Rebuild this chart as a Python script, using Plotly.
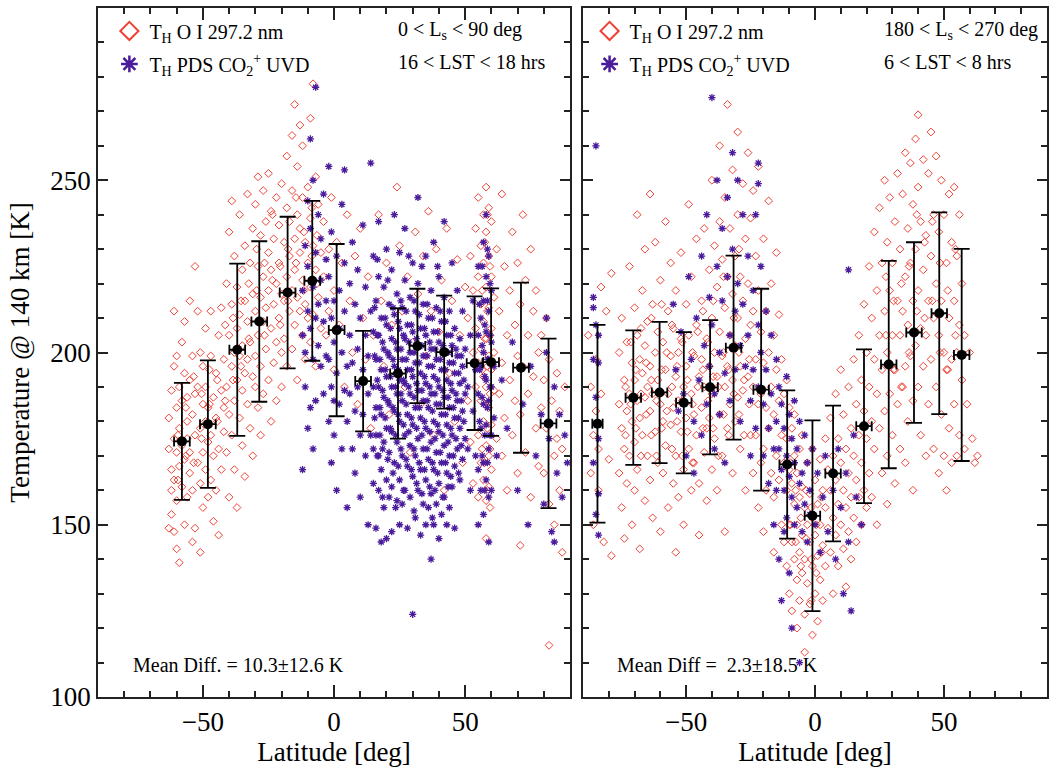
import plotly.graph_objects as go

# ---------------- DATA ----------------
# Left panel: 0 < Ls < 90 deg, 16 < LST < 18 hrs
RED_L = [
(-63,149),(-63,172),(-63,181),(-62,160),(-62,153),(-62,189),(-62,166),(-61,212),(-61,175),(-61,148),(-61,196),(-61,163),
(-60,199),(-60,171),(-60,184),(-60,157),(-60,143),(-59,139),(-59,178),(-59,167),(-59,190),(-58,186),(-58,161),(-58,173),
(-58,203),(-57,209),(-57,194),(-57,169),(-57,150),(-56,180),(-56,158),(-56,175),(-56,187),(-55,215),(-55,165),(-55,192),
(-55,171),(-54,145),(-54,182),(-54,199),(-54,160),(-53,225),(-53,176),(-53,149),(-53,188),
(-52,212),(-52,168),(-52,190),(-51,142),(-51,178),(-51,200),(-51,162),(-50,185),(-50,171),(-50,155),(-50,196),(-49,180),
(-49,207),(-49,166),(-49,190),(-48,174),(-48,158),(-48,184),(-47,199),(-47,163),(-47,212),(-47,176),(-46,151),(-46,187),
(-46,170),(-45,194),(-45,181),(-45,160),(-44,205),(-44,172),(-44,147),(-43,189),(-43,213),(-43,166),(-42,177),(-42,198),(-42,184),
(-41,220),(-41,190),(-41,171),(-40,235),(-40,205),(-40,182),(-40,158),(-39,214),(-39,196),(-39,176),(-39,244),(-38,228),
(-38,200),(-38,186),(-38,166),(-37,219),(-37,207),(-37,192),(-37,155),(-36,240),(-36,211),(-36,181),(-36,199),(-35,224),
(-35,202),(-35,173),(-35,189),(-34,231),(-34,215),(-34,194),(-34,164),(-33,246),(-33,209),(-33,185),(-33,198),(-32,226),
(-32,203),(-32,178),(-31,217),(-31,236),(-31,193),(-31,170),
(-30,243),(-30,212),(-30,190),(-30,199),(-29,251),(-29,225),(-29,205),(-29,184),(-28,234),(-28,216),(-28,196),(-28,176),
(-27,247),(-27,222),(-27,209),(-27,188),(-26,238),(-26,213),(-26,201),(-25,229),(-25,252),(-25,192),(-25,218),(-24,241),
(-24,207),(-24,180),(-24,224),(-23,233),(-23,214),(-23,197),(-22,245),(-22,220),(-22,203),(-22,186),(-21,237),(-21,226),
(-21,210),(-20,249),(-20,217),(-20,200),(-20,190),
(-19,232),(-19,215),(-19,204),(-18,257),(-18,242),(-18,222),(-18,196),(-17,238),(-17,212),(-17,228),(-16,263),(-16,247),
(-16,218),(-16,201),(-15,233),(-15,224),(-15,208),(-15,272),(-14,254),(-14,240),(-14,216),(-14,192),(-13,229),(-13,212),
(-13,236),(-13,266),(-12,260),(-12,245),(-12,221),(-12,205),(-11,232),(-11,214),(-11,198),(-10,248),(-10,226),(-10,210),
(-9,268),(-9,239),(-9,219),(-9,203),(-8,278),(-8,231),(-8,211),(-7,251),(-7,224),(-7,196),(-6,243),(-6,216),(-5,229),(-5,207),
(-4,222),(-4,238),(-3,205),(-2,230),(-2,212),(-1,245),(0,218),(0,195),(1,232),(2,208),(3,226),(4,190),(5,240),(6,215),
(7,200),(8,228),(9,185),(10,236),(11,210),(12,198),(13,222),(14,178),(15,205),
(17,240),(18,215),(19,196),(20,226),(21,182),(22,208),(24,248),(25,231),(26,212),(27,190),(28,222),(29,171),(30,203),
(31,235),(32,217),(33,185),(34,228),(35,199),(36,241),(37,212),(38,176),(39,230),(40,206),(41,221),(42,160),(43,236),
(44,194),(45,215),(46,180),(47,227),(48,205),(49,168),(50,219),
(51,210),(51,186),(52,228),(52,174),(53,200),(53,218),(53,162),(54,236),(54,190),(54,207),(55,245),(55,222),(55,197),
(55,176),(55,158),(56,231),(56,214),(56,201),(56,186),(56,168),(57,240),(57,226),(57,209),(57,193),(57,180),(57,163),
(58,248),(58,235),(58,219),(58,204),(58,190),(58,173),(58,157),(58,146),(59,242),(59,228),(59,213),(59,199),(59,184),
(59,170),(59,161),(60,238),(60,222),(60,207),(60,195),(60,179),(60,166),(61,216),(61,189),(61,200),(62,230),(62,175),
(63,212),(63,188),(64,246),(64,197),(64,170),(65,225),(65,181),(66,205),(66,160),(67,218),(67,192),(68,235),(68,176),
(69,208),(69,186),(70,226),(70,199),(70,165),(71,214),(71,182),(71,144),(72,240),(72,196),(73,221),(73,171),(74,205),
(74,188),(75,230),(75,158),(76,212),(76,193),(77,178),(77,218),(78,200),(78,167),
(79,205),(79,184),(80,192),(80,165),(81,178),(81,210),(82,156),(82,198),(82,115),(83,186),(84,170),(84,150),(85,194),
(85,175),(86,160),(86,183),(87,142),(87,172),(88,190),
]
# additional red points, given as (latitude, [temperatures])
RED_L_MORE = [
(-59.5,[176,163]),(-56.5,[184,170]),(-53.5,[168,193]),(-50.5,[188,175]),(-47.5,[185,195]),(-44.5,[180,192]),
(-41.5,[208,186]),(-38.5,[210,192]),(-35.5,[215,196]),(-32.5,[220,204]),(-29.5,[218,230]),(-26.5,[226,205]),
(-23.5,[221,240]),(-20.5,[225,208]),(-17.5,[230,215]),(-14.5,[226,245]),(-11.5,[235,218]),(-8.5,[228,242]),
(-6.5,[220,234]),(56.5,[218,195,172]),(57.5,[232,204,185,168]),(58.5,[240,212,196,178,160]),(59.5,[225,205,188,172,155]),
]

PURPLE_L = [
(-12,205),(-12,218),(-12,166),(-11,231),(-11,200),(-11,190),(-10,244),(-10,212),(-10,225),(-10,178),(-9,262),(-9,207),
(-9,236),(-9,184),(-8,219),(-8,198),(-8,250),(-8,172),(-7,277),(-7,229),(-7,210),(-7,186),(-6,214),(-6,240),(-6,202),
(-5,221),(-5,196),(-5,233),(-4,209),(-4,246),(-4,188),(-3,215),(-3,199),(-3,227),
(-2,222),(-2,198),(-2,180),(-2,254),(-1,235),(-1,210),(-1,190),(-1,168),(0,215),(0,203),(0,186),(0,176),(1,228),(1,194),
(1,160),(2,207),(2,218),(2,185),(3,243),(3,200),(3,172),(4,212),(4,189),(4,226),(4,253),(5,196),(5,180),(5,155),(6,220),
(6,205),(6,188),(7,232),(7,172),(7,197),(8,214),(8,183),(8,165),(9,201),(9,224),(9,190),(10,176),(10,210),(10,158),
(11,237),(11,195),(11,182),(12,205),(12,170),(12,219),(13,188),(13,150),(13,199),(14,212),(14,176),(14,255),
(15,190),(15,206),(15,172),(15,228),(15,162),(16,198),(16,184),(16,215),(16,149),(16,176),
(17,205),(17,190),(17,170),(17,222),(17,160),(17,238),(18,195),(18,182),(18,210),(18,166),(18,145),
(19,201),(19,187),(19,174),(19,219),(19,155),(20,193),(20,208),(20,178),(20,163),(20,230),(20,146),
(21,199),(21,185),(21,171),(21,214),(21,158),(22,204),(22,190),(22,177),(22,224),(22,161),(22,148),
(23,196),(23,183),(23,211),(23,168),(23,240),(24,201),(24,188),(24,174),(24,217),(24,157),
(25,207),(25,192),(25,180),(25,163),(25,229),(25,150),(26,198),(26,186),(26,213),(26,170),(26,156),
(27,204),(27,191),(27,176),(27,221),(27,160),(27,236),(28,195),(28,182),(28,208),(28,167),(28,149),
(29,200),(29,188),(29,173),(29,216),(29,158),(30,206),(30,193),(30,179),(30,164),(30,226),(30,124),
(31,197),(31,184),(31,212),(31,170),(31,152),(32,202),(32,189),(32,175),(32,220),(32,160),(32,245),
(33,194),(33,181),(33,207),(33,166),(33,147),(34,199),(34,186),(34,172),(34,214),(34,156),
(35,205),(35,191),(35,178),(35,163),(35,228),(35,150),(36,196),(36,184),(36,210),(36,169),(36,155),
(37,201),(37,188),(37,174),(37,218),(37,159),(37,140),(38,193),(38,180),(38,206),(38,166),(38,232),(38,150),
(39,198),(39,185),(39,171),(39,213),(39,156),(40,203),(40,190),(40,177),(40,162),(40,222),(40,146),
(41,195),(41,182),(41,209),(41,168),(41,153),(42,200),(42,187),(42,173),(42,216),(42,158),(42,238),
(43,192),(43,179),(43,205),(43,165),(43,150),(44,197),(44,184),(44,170),(44,212),(44,155),
(45,202),(45,189),(45,176),(45,161),(45,226),(46,194),(46,181),(46,207),(46,167),(46,149),
(47,199),(47,186),(47,172),(47,218),(48,191),(48,178),(48,204),(48,163),(49,196),(49,183),(49,169),(49,212),
(50,188),(50,175),(50,201),
(51,190),(51,172),(52,205),(52,160),(53,183),(53,215),(54,195),(54,170),(55,225),(55,205),(55,188),(55,166),(55,150),
(56,210),(56,196),(56,178),(56,160),(57,232),(57,215),(57,200),(57,185),(57,168),(57,153),(58,240),(58,222),(58,206),
(58,192),(58,179),(58,163),(59,228),(59,212),(59,198),(59,186),(59,172),(59,158),(59,145),(60,218),(60,203),(60,190),
(60,176),(60,160),(61,196),(61,181),(62,170),
(64,192),(66,178),(68,203),(70,160),(72,185),(74,150),(75,196),(77,170),(79,182),(80,156),(81,200),(81,210),(82,175),
(83,148),(84,190),(84,145),(85,165),(86,182),(87,158),(88,176),(89,168),
]
PURPLE_L_MORE = [
(15.5,[181,199,213]),(16.5,[170,192,205,227]),(17.5,[184,198,176]),(18.5,[203,189,158,172]),(19.5,[195,210,181]),
(20.5,[186,200,169,221]),(21.5,[193,178,207]),(22.5,[184,198,213,165]),(23.5,[190,176,203,155]),(24.5,[195,182,209,167]),
(25.5,[188,201,172,215]),(26.5,[192,179,205,160]),(27.5,[185,198,169,212]),(28.5,[190,177,203,228]),(29.5,[195,181,166,208]),
(30.5,[187,200,172,215,154]),(31.5,[191,178,204,162]),(32.5,[184,197,168,211]),(33.5,[189,176,202,159,225]),
(34.5,[193,180,166,207]),(35.5,[186,199,172,214]),(36.5,[190,177,203,161]),(37.5,[183,196,168,210,152]),
(38.5,[188,175,201,160]),(39.5,[192,179,165,206,225]),(40.5,[185,198,171,212]),(41.5,[189,176,202,158]),
(42.5,[182,195,168,209]),(43.5,[187,174,200,161]),(44.5,[191,178,164,205]),(45.5,[184,197,170]),(46.5,[188,175,201]),
(47.5,[181,194,165]),(48.5,[186,173,199]),(49.5,[180,192]),
(55.5,[195,180,214]),(56.5,[202,187,170,225]),(57.5,[193,176,208,160]),(58.5,[198,184,168,230,215]),(59.5,[190,205,176,220]),
]

# Right panel: 180 < Ls < 270 deg, 6 < LST < 8 hrs
RED_R = [
(-88,205),(-87,165),(-87,190),(-86,176),(-86,150),(-85,198),(-85,183),(-84,160),(-84,172),(-83,188),(-83,219),(-82,145),
(-81,212),(-80,169),(-79,223),(-79,141),
(-76,185),(-76,200),(-76,165),(-75,178),(-75,210),(-75,155),(-74,192),(-74,172),(-74,146),(-73,203),(-73,183),(-73,162),
(-72,225),(-72,188),(-72,170),(-71,197),(-71,180),(-71,150),(-70,213),(-70,192),(-70,174),(-70,160),(-69,240),(-69,205),
(-69,186),(-69,166),(-68,198),(-68,181),(-68,143),(-67,218),(-67,194),(-67,176),(-66,230),(-66,202),(-66,187),(-66,157),
(-65,209),(-65,190),(-65,170),(-64,246),(-64,196),(-64,183),(-64,163),(-63,214),(-63,188),(-63,152),(-62,232),(-62,200),
(-62,177),(-61,206),(-61,192),(-61,168),(-60,221),(-60,185),(-60,148),
(-59,203),(-59,180),(-59,165),(-58,238),(-58,195),(-58,173),(-57,212),(-57,188),(-57,155),(-56,226),(-56,199),(-56,179),
(-55,207),(-55,184),(-55,162),(-54,218),(-54,193),(-54,170),(-54,142),(-53,200),(-53,186),(-53,158),(-52,229),(-52,204),
(-52,177),(-51,190),(-51,166),(-51,150),(-50,214),(-50,196),(-50,181),(-49,243),(-49,205),(-49,172),(-48,222),(-48,188),
(-48,160),(-47,199),(-47,182),(-47,168),(-46,233),(-46,208),(-46,176),(-45,193),(-45,162),(-45,147),(-44,215),(-44,198),
(-44,184),(-43,236),(-43,190),(-43,171),(-42,204),(-42,178),(-42,157),
(-41,224),(-41,196),(-41,181),(-40,250),(-40,210),(-40,188),(-40,166),(-39,231),(-39,200),(-39,175),(-38,219),(-38,193),
(-38,160),(-37,260),(-37,238),(-37,206),(-37,182),(-36,227),(-36,199),(-36,170),(-35,245),(-35,213),(-35,190),(-35,148),
(-34,272),(-34,222),(-34,196),(-34,178),(-33,236),(-33,205),(-33,185),(-32,253),(-32,217),(-32,192),(-32,165),(-31,228),
(-31,202),(-31,180),(-30,264),(-30,240),(-30,210),(-30,187),(-29,222),(-29,196),(-29,172),(-28,249),(-28,215),(-28,189),
(-27,233),(-27,204),(-27,160),(-26,258),(-26,220),(-26,193),(-25,239),(-25,208),(-25,176),
(-24,247),(-24,212),(-24,190),(-24,165),(-23,228),(-23,198),(-23,176),(-22,254),(-22,218),(-22,185),(-22,155),(-21,206),
(-21,188),(-21,168),(-20,233),(-20,197),(-20,172),(-20,148),(-19,212),(-19,184),(-19,160),(-18,244),(-18,200),(-18,178),
(-17,220),(-17,190),(-17,165),(-16,205),(-16,182),(-16,158),(-16,142),(-15,229),(-15,195),(-15,170),(-14,211),(-14,186),
(-14,163),(-13,198),(-13,176),(-13,150),(-12,188),(-12,168),(-12,145),
(-11,192),(-11,175),(-11,160),(-11,138),(-10,184),(-10,166),(-10,150),(-10,130),(-9,178),(-9,162),(-9,145),(-9,125),
(-8,170),(-8,156),(-8,140),(-8,182),(-7,165),(-7,150),(-7,134),(-7,120),(-6,172),(-6,158),(-6,142),(-6,128),(-5,161),
(-5,147),(-5,136),(-5,176),(-4,155),(-4,140),(-4,124),(-4,113),(-3,168),(-3,150),(-3,133),(-2,159),(-2,145),(-2,127),
(-1,172),(-1,152),(-1,138),(-1,118),(0,163),(0,147),(0,130),(1,156),(1,141),(1,122),(2,169),(2,150),(2,134),(3,160),
(3,144),(3,128),(4,175),(4,155),(4,138),(5,166),(5,149),
(6,181),(6,160),(6,142),(7,170),(7,152),(7,130),(8,188),(8,163),(8,147),(9,175),(9,156),(9,138),(10,195),(10,168),
(10,150),(11,182),(11,160),(11,143),(12,172),(12,155),(12,132),(13,190),(13,165),(13,148),(14,178),(14,158),(14,140),
(15,198),(15,170),(15,152),(16,185),(16,163),(16,145),(17,205),(17,176),(17,158),(18,192),(18,168),(18,150),(19,214),
(19,183),(19,160),(20,200),(20,175),(20,155),
(21,225),(21,190),(21,165),(22,210),(22,180),(22,158),(23,235),(23,198),(23,172),(24,218),(24,188),(24,150),(25,242),
(25,205),(25,178),(26,226),(26,195),(26,165),(27,250),(27,212),(27,183),(28,232),(28,200),(28,170),(28,156),(29,245),
(29,218),(29,188),(30,226),(30,205),(30,176),(31,238),(31,195),(31,162),(32,252),(32,215),(32,185),(33,230),(33,205),
(33,172),(34,246),(34,212),(34,190),(35,258),(35,222),(35,196),(35,168),(36,236),(36,208),(36,180),(37,255),(37,226),
(37,199),(38,243),(38,215),(38,186),(38,160),(39,262),(39,230),(39,202),(40,269),(40,248),(40,218),(40,190),(41,238),
(41,207),(41,176),(42,256),(42,224),(42,196),(43,234),(43,205),(43,170),(44,252),(44,215),(44,185),(45,264),(45,228),
(45,198),(46,240),(46,210),(46,172),(47,257),(47,220),(47,190),(48,235),(48,205),(48,165),(49,250),(49,215),(49,182),
(50,240),(50,200),(50,170),(51,226),(51,195),(51,160),(52,246),(52,210),(52,178),(53,232),(53,198),(53,168),(54,248),
(54,215),(54,185),(55,228),(55,200),(55,170),(56,240),(56,208),(56,176),(57,220),(57,192),(58,205),(58,172),(59,185),
(60,200),(61,175),(62,168),(63,170),
]
RED_R_MORE = [
(-73.5,[190,176]),(-71.5,[185,203]),(-69.5,[178,195]),(-67.5,[188,170,207]),(-65.5,[182,197]),(-63.5,[176,192,210]),
(-61.5,[186,170]),(-59.5,[195,178,214]),(-57.5,[183,200]),(-55.5,[190,172,208]),(-53.5,[180,196]),(-51.5,[186,203,170]),
(-49.5,[192,177]),(-47.5,[185,200,168]),(-45.5,[190,206]),(-43.5,[178,195,212]),(-41.5,[186,203]),(-39.5,[193,178,215]),
(-37.5,[190,170]),(-35.5,[200,182,222]),(-33.5,[195,176]),(-31.5,[210,188]),(-29.5,[200,182,230]),(-27.5,[192,176]),
(-25.5,[198,185]),(-9.5,[150,168]),(-7.5,[145,160]),(-5.5,[152,138]),(-3.5,[146,160]),(-1.5,[140,155,128]),
(0.5,[150,136]),(2.5,[158,142]),(27.5,[205,222]),(30.5,[215,195]),(33.5,[220,190]),(36.5,[225,200]),(39.5,[240,212]),
(42.5,[232,210]),(45.5,[238,215]),(48.5,[226,200]),(51.5,[218,195]),(54.5,[230,205]),
]

PURPLE_R = [
(-85,260),(-86,216),(-86,213),(-85,208),(-84,205),(-86,198),(-84,197),(-85,187),(-84,175),(-86,168),(-84,159),(-85,153),(-84,147),
(-55,214),(-54,195),(-53,183),(-52,206),(-51,188),(-50,170),(-49,222),(-48,198),(-47,180),(-47,165),(-46,210),(-45,192),
(-44,176),(-44,228),(-43,202),(-42,185),(-42,240),(-41,196),(-41,216),(-40,274),(-40,208),(-39,188),(-39,172),(-38,250),
(-38,225),(-37,200),(-37,182),(-36,236),(-36,215),(-35,194),(-35,168),(-34,245),(-34,222),(-33,205),(-33,186),(-32,258),
(-32,230),(-31,212),(-31,195),(-30,250),(-30,220),(-29,202),(-29,180),(-28,240),(-28,214),(-27,196),(-26,228),(-26,205),
(-25,186),(-25,170),(-24,218),(-24,195),(-23,240),(-23,178),(-22,255),(-22,249),(-22,208),(-22,190),
(-21,225),(-21,200),(-20,185),(-20,170),(-19,212),(-19,195),(-18,178),(-18,162),(-17,205),(-17,188),(-16,172),(-16,150),
(-15,198),(-15,180),(-15,160),(-14,190),(-14,172),(-14,140),(-13,185),(-13,166),(-13,128),(-12,178),(-12,160),(-12,148),
(-11,193),(-11,170),(-11,152),(-10,182),(-10,164),(-10,136),(-9,175),(-9,158),(-9,120),(-8,186),(-8,168),(-8,150),
(-7,172),(-7,155),(-6,180),(-6,162),(-6,110),(-5,165),(-5,148),(-4,176),(-4,156),(-3,168),(-3,145),(-2,160),(-2,153),
(-1,172),(0,150),(1,165),(2,142),(3,158),(4,170),(5,148),
(7,160),(8,140),(9,172),(10,155),(11,130),(12,165),(13,224),(13,145),(14,125),(15,176),(16,158),(18,150),
]

# Binned means (black points) with 1-sigma error bars
BIN_L_LAT = [-58.0, -48.1, -36.9, -28.5, -17.7, -8.3, 1.0, 11.1, 24.4, 31.8, 42.0, 53.6, 59.9, 71.3, 81.8]
BIN_L_T   = [174.2, 179.2, 200.8, 209.0, 217.4, 220.8, 206.5, 191.7, 193.9, 201.9, 200.1, 196.9, 197.2, 195.6, 179.4]
BIN_L_SD  = [17.0, 18.5, 25.0, 23.3, 22.0, 23.2, 25.0, 14.6, 18.9, 16.6, 16.4, 19.4, 21.4, 24.7, 24.6]
BIN_L_DX  = [3.0, 3.0, 3.0, 3.0, 3.0, 3.0, 3.0, 3.0, 3.0, 3.0, 3.0, 3.0, 3.0, 3.0, 3.0]

BIN_R_LAT = [-84.4, -70.5, -60.3, -50.9, -40.7, -31.6, -20.9, -10.8, -1.0, 7.0, 19.0, 28.6, 38.4, 48.2, 56.9]
BIN_R_T   = [179.3, 186.9, 188.4, 185.4, 189.9, 201.4, 189.2, 167.5, 152.6, 164.9, 178.6, 196.5, 205.8, 211.4, 199.3]
BIN_R_SD  = [28.7, 19.5, 20.5, 20.5, 19.5, 26.7, 29.3, 21.5, 27.7, 19.7, 22.3, 30.1, 26.2, 29.3, 30.8]
BIN_R_DX  = [2.0, 3.0, 3.0, 3.0, 3.0, 3.0, 3.0, 3.0, 3.0, 3.0, 3.0, 3.0, 3.0, 3.0, 3.0]

LEGEND_NAMES = ["T<sub>H</sub> O I 297.2 nm", "T<sub>H</sub> PDS CO<sub>2</sub><sup>+</sup> UVD"]
PANEL_TEXT_L = ["0 < L<sub>s</sub> < 90 deg", "16 < LST < 18 hrs"]
PANEL_TEXT_R = ["180 < L<sub>s</sub> < 270 deg", "6 < LST < 8 hrs"]
MEAN_DIFF = ["Mean Diff. = 10.3\u00b112.6 K", "Mean Diff =  2.3\u00b118.5 K"]

# ---------------- STYLE ----------------
FONT = "Liberation Serif, Times New Roman, serif"
RED = "#ee4236"
PURPLE = "#4a1c9c"
AX = "#222222"


def expand(pairs, more):
    xs = [p[0] for p in pairs]
    ys = [p[1] for p in pairs]
    for lat, temps in more:
        for t in temps:
            xs.append(lat)
            ys.append(t)
    return xs, ys


fig = go.Figure()


def add_panel(red, red_more, purple, purple_more, blat, bt, bsd, bdx, xa, ya, leg):
    rx, ry = expand(red, red_more)
    px, py = expand(purple, purple_more)
    fig.add_trace(go.Scatter(
        x=rx, y=ry, mode="markers",
        marker=dict(symbol="diamond-open", size=6, color=RED, line=dict(width=1, color=RED)),
        xaxis=xa, yaxis=ya, showlegend=False, hoverinfo="skip"))
    fig.add_trace(go.Scatter(
        x=px, y=py, mode="markers",
        marker=dict(symbol="asterisk-open", size=6, color=PURPLE, line=dict(width=1.3, color=PURPLE)),
        xaxis=xa, yaxis=ya, showlegend=False, hoverinfo="skip"))
    fig.add_trace(go.Scatter(
        x=blat, y=bt, mode="markers",
        marker=dict(symbol="circle", size=10, color="black"),
        error_y=dict(type="data", array=bsd, color="black", thickness=1.8, width=8),
        error_x=dict(type="data", array=bdx, color="black", thickness=1.8, width=5),
        xaxis=xa, yaxis=ya, showlegend=False, hoverinfo="skip"))
    # legend-only entries (no data points)
    fig.add_trace(go.Scatter(
        x=[None], y=[None], mode="markers", name=LEGEND_NAMES[0], legendgroup=leg + "a",
        marker=dict(symbol="diamond-open", size=14, color=RED, line=dict(width=2, color=RED)),
        xaxis=xa, yaxis=ya, legend=leg, showlegend=True))
    fig.add_trace(go.Scatter(
        x=[None], y=[None], mode="markers", name=LEGEND_NAMES[1], legendgroup=leg + "b",
        marker=dict(symbol="asterisk-open", size=14, color=PURPLE, line=dict(width=2.5, color=PURPLE)),
        xaxis=xa, yaxis=ya, legend=leg, showlegend=True))


add_panel(RED_L, RED_L_MORE, PURPLE_L, PURPLE_L_MORE, BIN_L_LAT, BIN_L_T, BIN_L_SD, BIN_L_DX, "x", "y", "legend")
add_panel(RED_R, RED_R_MORE, PURPLE_R, [], BIN_R_LAT, BIN_R_T, BIN_R_SD, BIN_R_DX, "x2", "y2", "legend2")

common_x = dict(
    range=[-90, 90], tickmode="array", tickvals=[-50, 0, 50],
    ticks="inside", ticklen=12, tickwidth=1.5, tickcolor=AX,
    minor=dict(dtick=10, tick0=0, ticks="inside", ticklen=6, tickwidth=1.5, tickcolor=AX),
    showline=True, linecolor=AX, linewidth=1.5, mirror="allticks",
    showgrid=False, zeroline=False, automargin=False,
    tickfont=dict(family=FONT, size=27, color="black"),
    title=dict(text="Latitude [deg]", font=dict(family=FONT, size=27, color="black"), standoff=2),
    fixedrange=True,
)
common_y = dict(
    range=[100, 300], tickmode="array", tickvals=[100, 150, 200, 250, 300],
    ticks="inside", ticklen=10, tickwidth=1.5, tickcolor=AX,
    minor=dict(dtick=10, tick0=100, ticks="inside", ticklen=6, tickwidth=1.5, tickcolor=AX),
    showline=True, linecolor=AX, linewidth=1.5, mirror="allticks",
    showgrid=False, zeroline=False, automargin=False,
    tickfont=dict(family=FONT, size=27, color="black"),
    fixedrange=True,
)

LEG = dict(xanchor="left", yanchor="top", bgcolor="rgba(0,0,0,0)",
           font=dict(family=FONT, size=20, color="black"), itemsizing="trace",
           traceorder="grouped", tracegroupgap=4)

fig.update_layout(
    width=1052, height=770,
    margin=dict(l=98, r=5, t=8, b=73),
    paper_bgcolor="white", plot_bgcolor="white",
    font=dict(family=FONT, color="black"),
    xaxis=dict(domain=[0, 0.4974], anchor="y", **common_x),
    xaxis2=dict(domain=[0.5111, 1.0], anchor="y2", **common_x),
    yaxis=dict(domain=[0, 1], anchor="x",
               title=dict(text="Temperature @ 140 km [K]", font=dict(family=FONT, size=27, color="black"), standoff=13),
               **common_y),
    yaxis2=dict(domain=[0, 1], anchor="x2", showticklabels=False, **common_y),
    legend=dict(x=0.012, y=0.995, **LEG),
    legend2=dict(x=0.518, y=0.995, **LEG),
    showlegend=True,
)

ann = []
for i, t in enumerate(PANEL_TEXT_L):
    ann.append(dict(text=t, xref="x domain", yref="y domain", x=0.631, y=[0.968, 0.921][i],
                    xanchor="left", yanchor="middle", showarrow=False,
                    font=dict(family=FONT, size=20, color="black")))
for i, t in enumerate(PANEL_TEXT_R):
    ann.append(dict(text=t, xref="x2 domain", yref="y2 domain", x=0.644, y=[0.968, 0.921][i],
                    xanchor="left", yanchor="middle", showarrow=False,
                    font=dict(family=FONT, size=20, color="black")))
ann.append(dict(text=MEAN_DIFF[0], xref="x domain", yref="y domain", x=0.07, y=0.046,
                xanchor="left", yanchor="middle", showarrow=False, font=dict(family=FONT, size=20, color="black")))
ann.append(dict(text=MEAN_DIFF[1], xref="x2 domain", yref="y2 domain", x=0.069, y=0.046,
                xanchor="left", yanchor="middle", showarrow=False, font=dict(family=FONT, size=20, color="black")))
fig.update_layout(annotations=ann)

# remove the browser's default 8px page margin so the figure sits at the top-left corner
fig.write_html("out.html", config={"displayModeBar": False},
               post_script="document.body.style.margin='0';document.body.style.overflow='hidden';")
